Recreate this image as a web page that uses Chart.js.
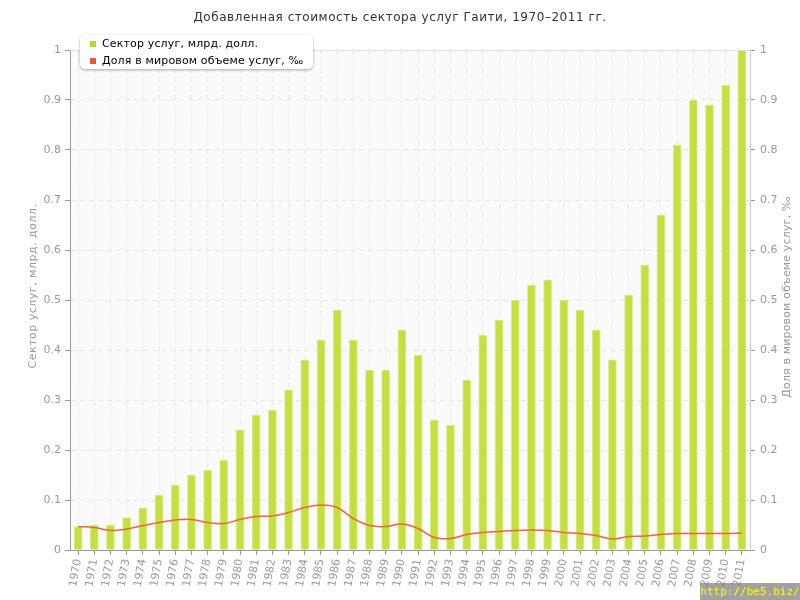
<!DOCTYPE html>
<html>
<head>
<meta charset="utf-8">
<script src="https://cdn.jsdelivr.net/npm/chart.js@4"></script>
<style>
  body { margin: 0; background: #fff; }
  #wrap { position: relative; width: 800px; height: 600px; }
  #legend {
    position: absolute; left: 80px; top: 35px; width: 233px; height: 34px;
    background: #fff; border-radius: 5px; box-shadow: 0 1px 3px rgba(0,0,0,0.35);
    font: 11px "DejaVu Sans", sans-serif; color: #000; letter-spacing: 0.15px;
  }
  #legend div { position: absolute; left: 22px; white-space: nowrap; }
  #legend span { position: absolute; left: -12px; top: 4px; width: 6px; height: 6px; }
  #wm {
    position: absolute; right: 0; bottom: 0; width: 100px; height: 17px;
    background: rgba(130,130,130,0.75); color: #ffff00;
    font: 11px "DejaVu Sans Mono", monospace; line-height: 17px; text-align: center;
  }
</style>
</head>
<body>
<div id="wrap">
  <canvas id="myChart" width="800" height="600"></canvas>
  <div id="legend">
    <div style="top:2px"><span style="background:#b5d92f"></span>Сектор услуг, млрд. долл.</div>
    <div style="top:19px"><span style="background:#e55b2b"></span>Доля в мировом объеме услуг, ‰</div>
  </div>
  <div id="wm">http://be5.biz/</div>
</div>
<script>
// Data
const years = [];
for (let y = 1970; y <= 2011; y++) years.push(String(y));

// Services sector, bn USD
const services = [0.047, 0.05, 0.05, 0.065, 0.084, 0.11, 0.13, 0.15, 0.16, 0.18,
    0.24, 0.27, 0.28, 0.32, 0.38, 0.42, 0.48, 0.42, 0.36, 0.36,
    0.44, 0.39, 0.26, 0.25, 0.34, 0.43, 0.46, 0.50, 0.53, 0.54,
    0.50, 0.48, 0.44, 0.38, 0.51, 0.57, 0.67, 0.81, 0.90, 0.89,
    0.93, 1.00];

// Share of world services, per mille
const share = [0.047, 0.045, 0.039, 0.042, 0.049, 0.055, 0.060, 0.061, 0.055, 0.053,
    0.061, 0.067, 0.068, 0.075, 0.085, 0.090, 0.085, 0.063, 0.049, 0.047,
    0.052, 0.043, 0.025, 0.023, 0.031, 0.035, 0.037, 0.039, 0.040, 0.039,
    0.035, 0.033, 0.029, 0.022, 0.027, 0.028, 0.031, 0.033, 0.033, 0.033,
    0.033, 0.034];

const titleText = 'Добавленная стоимость сектора услуг Гаити, 1970–2011 гг.';
const leftTitle = 'Сектор услуг, млрд. долл.';
const rightTitle = 'Доля в мировом объеме услуг, ‰';

const gray = '#999';
const font = { family: 'DejaVu Sans', size: 11 };
const fmt = v => String(+v.toFixed(1));

// background of the plot area, title and rotated axis titles
const decor = {
    id: 'decor',
    beforeDraw(chart) {
        const { ctx, chartArea: a } = chart;
        ctx.save();
        ctx.fillStyle = '#fafafa';
        ctx.fillRect(a.left, a.top, a.right - a.left, a.bottom - a.top);
        ctx.restore();
    },
    afterDraw(chart) {
        const { ctx, chartArea: a } = chart;
        ctx.save();
        ctx.strokeStyle = '#dddddd';
        ctx.lineWidth = 1;
        ctx.beginPath();
        ctx.moveTo(a.left, a.top + 0.5);
        ctx.lineTo(a.right, a.top + 0.5);
        ctx.stroke();

        ctx.fillStyle = '#333';
        ctx.font = '12px "DejaVu Sans"';
        ctx.letterSpacing = '0.55px';
        ctx.textAlign = 'center';
        ctx.textBaseline = 'middle';
        ctx.fillText(titleText, 400, 18);

        ctx.fillStyle = gray;
        ctx.font = '11px "DejaVu Sans"';
        ctx.letterSpacing = '0.5px';
        ctx.save();
        ctx.translate(33, 286);
        ctx.rotate(-Math.PI / 2);
        ctx.fillText(leftTitle, 0, 0);
        ctx.restore();
        ctx.letterSpacing = '0.15px';
        ctx.translate(787, 297);
        ctx.rotate(-Math.PI / 2);
        ctx.fillText(rightTitle, 0, 0);
        ctx.restore();
    }
};

const ctx = document.getElementById('myChart').getContext('2d');
new Chart(ctx, {
    type: 'bar',
    data: {
        labels: years,
        datasets: [{
            label: 'Доля в мировом объеме услуг, ‰',
            type: 'line',
            data: share,
            yAxisID: 'y1',
            borderColor: '#e8683a',
            borderWidth: 1.5,
            pointRadius: 0,
            tension: 0.4,
            order: 0
        }, {
            label: 'Сектор услуг, млрд. долл.',
            data: services,
            yAxisID: 'y',
            backgroundColor: '#c4df3e',
            borderColor: '#d8ec90',
            borderWidth: 1,
            barThickness: 8,
            order: 1
        }]
    },
    options: {
        responsive: false,
        animation: false,
        layout: { padding: { top: 50, left: 0, right: 0, bottom: 0 } },
        plugins: {
            legend: { display: false },
            tooltip: { enabled: false }
        },
        scales: {
            x: {
                z: 1,
                offset: true,
                grid: { color: '#ebebeb', offset: false, tickLength: 5, tickColor: gray, tickBorderDash: [] },
                border: { color: gray, dash: [5, 4] },
                ticks: { color: gray, font: font, minRotation: 80, maxRotation: 80, padding: 3, autoSkip: false },
                afterFit(scale) { scale.height = 50; }
            },
            y: {
                position: 'left',
                min: 0, max: 1,
                z: 1,
                grid: { color: '#e6e6e6', tickLength: 5, tickColor: gray, tickBorderDash: [] },
                border: { color: gray, dash: [5, 4] },
                ticks: { stepSize: 0.1, color: gray, font: font, padding: 4, callback: fmt },
                afterFit(scale) { scale.width = 70; }
            },
            y1: {
                position: 'right',
                min: 0, max: 1,
                grid: { drawOnChartArea: false, tickLength: 5, tickColor: gray },
                border: { color: '#cccccc' },
                ticks: { stepSize: 0.1, color: gray, font: font, padding: 5, callback: fmt },
                afterFit(scale) { scale.width = 50; }
            }
        }
    },
    plugins: [decor]
});
</script>
</body>
</html>
